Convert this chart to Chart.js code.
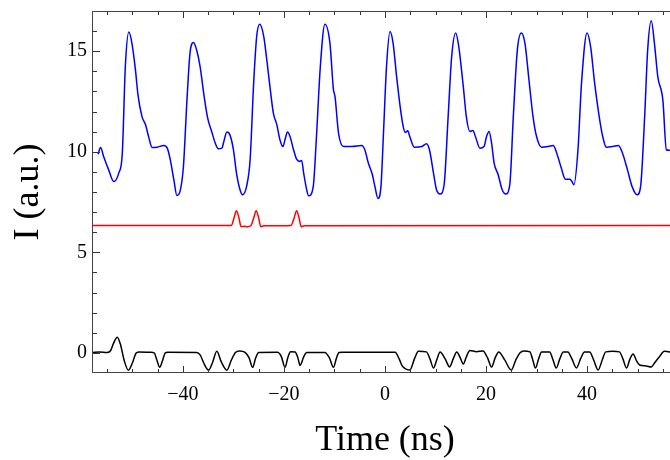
<!DOCTYPE html>
<html>
<head>
<meta charset="utf-8">
<script src="https://cdn.jsdelivr.net/npm/chart.js@4.4.1/dist/chart.umd.min.js"></script>
<style>
  html, body { margin: 0; padding: 0; background: #fff; overflow: hidden; }
  #wrap { width: 690px; height: 460px; }
</style>
</head>
<body>
<div id="wrap"><canvas id="pulses" width="690" height="460"></canvas></div>
<script>
"use strict"

// axis ticks
const timeTicks = [-40, -20, 0, 20, 40];
const levelTicks = [0, 5, 10, 15];

// blue trace: output intensity (offset by +10)
const blueTime = [-56.8, -56.3, -55.7, -54.7, -53.7, -52.7, -52.0, -51.4, -50.7, -50.1, -49.4, -48.9, -48.1, -47.4, -46.8, -46.1,
  -45.1, -43.8, -43.1, -42.5, -41.8, -41.2, -40.5, -39.9, -39.2, -38.6, -37.9, -37.3, -36.6, -35.8, -35.1, -34.3, -33.6, -33.0,
  -32.3, -31.9, -31.3, -30.7, -30.0, -29.4, -28.7, -28.2, -27.4, -26.7, -26.0, -25.4, -24.8, -24.0, -23.4, -22.7, -22.1, -21.4,
  -20.8, -20.2, -19.8, -19.3, -18.8, -18.1, -17.5, -16.9, -16.5, -16.1, -15.5, -15.1, -14.2, -13.6, -12.8, -11.9, -10.9, -10.2,
  -9.9, -9.2, -8.2, -6.6, -4.6, -4.0, -3.3, -2.5, -2.0, -1.4, -0.8, -0.3, 0.3, 1.0, 1.6, 2.3, 3.0, 3.6, 4.0, 4.5, 4.9, 5.8,
  7.3, 8.2, 8.8, 9.6, 10.2, 10.9, 11.7, 12.5, 13.2, 14.0, 14.6, 15.5, 16.1, 16.8, 17.4, 17.9, 18.8, 19.6, 20.1, 20.6, 21.1,
  21.6, 22.4, 23.2, 23.9, 24.7, 25.4, 26.2, 27.0, 27.7, 28.5, 29.3, 30.0, 31.0, 32.3, 33.3, 34.0, 34.9, 35.7, 36.6, 37.0,
  37.4, 38.2, 38.9, 40.0, 40.7, 41.5, 42.5, 43.1, 43.8, 45.1, 46.2, 46.9, 48.0, 48.9, 49.9, 50.6, 51.4, 52.0, 52.7, 53.4,
  54.0, 55.0, 55.7, 56.3, 57.2, 58.0];
const blueLevel = [9.88, 10.21, 9.77, 9.10, 8.52, 8.94, 9.93, 14.24, 15.95, 15.40, 14.07, 12.83, 11.75, 11.34, 10.76, 10.21,
  10.23, 10.31, 10.18, 9.60, 8.61, 7.83, 8.11, 9.27, 12.58, 14.90, 15.43, 15.07, 14.24, 12.75, 11.67, 11.00, 10.43, 10.15,
  10.18, 10.51, 10.98, 10.84, 10.10, 8.94, 8.11, 7.86, 8.28, 9.60, 13.41, 15.73, 16.34, 15.73, 14.57, 13.08, 11.92, 11.34,
  10.60, 10.26, 10.60, 10.98, 10.76, 10.10, 9.63, 9.52, 9.57, 8.94, 8.11, 7.81, 8.28, 10.60, 14.24, 16.34, 15.40, 13.08,
  12.75, 10.93, 10.26, 10.26, 10.31, 10.10, 9.44, 8.86, 8.28, 7.68, 8.28, 10.93, 14.24, 15.98, 15.40, 13.74, 12.25, 11.26, 10.96, 11.04, 10.76, 10.23,
  10.26, 10.40, 10.10, 8.94, 8.11, 7.90, 8.36, 11.75, 14.74, 15.91, 15.23, 13.24, 11.75, 11.01, 11.06, 10.76, 10.18, 10.26, 10.76, 11.01, 10.43,
  9.44, 8.86, 8.11, 7.90, 8.36, 11.75, 15.07, 15.91, 15.40, 13.57, 11.75, 10.76, 10.23, 10.26, 10.31, 9.93, 9.19, 8.64, 8.64, 8.52,
  8.36, 10.10, 13.41, 15.91, 15.23, 13.41, 11.59, 10.76, 10.23, 10.26, 10.31, 10.01, 9.10, 8.28, 7.86, 8.28, 11.75, 15.07, 16.51, 15.23,
  13.74, 12.58, 10.10, 10.07, 10.10, 10.15];

// red trace: injected signal (offset by +6.34)
const redTime = [-58, -30.4, -29.9, -29.4, -28.9, -28.5, -27.9, -27.2, -26.5, -26.0, -25.5, -25.0, -24.6, -24.0,
  -18.6, -18.0, -17.5, -17.0, -16.6, -16.0, 58];
const redLevel = [6.34, 6.34, 6.7, 7.07, 6.7, 6.27, 6.3, 6.27, 6.34, 6.7, 7.07, 6.7, 6.27, 6.32,
  6.34, 6.7, 7.07, 6.7, 6.27, 6.32, 6.34];

// black trace: bit pattern
const blackTime = [-58, -56.5, -55.0, -54.3, -53.7, -53.0, -52.4, -51.6, -50.8, -50.0, -49.3, -48.7, -46.4, -45.7, -45.1,
  -44.6, -44.0, -43.5, -43.0, -37.3, -36.6, -35.7, -34.9, -34.1, -33.3, -32.4, -31.3, -30.4, -29.6, -28.8, -27.7, -26.9,
  -26.2, -25.6, -25.0, -21.3, -20.5, -19.8, -19.2, -18.7, -17.8, -17.3, -16.8, -16.1, -15.5, -11.9, -11.0, -10.2, -9.6,
  -9.1, -8.5, 2.0, 2.8, 3.4, 4.3, 4.9, 5.9, 6.6, 8.2, 8.9, 9.6, 10.3, 10.9, 11.9, 12.8, 13.5, 14.2, 14.9, 15.5, 16.1, 16.8,
  18.1, 19.4, 20.3, 21.1, 21.8, 22.5, 23.7, 25.0, 25.9, 26.7, 27.5, 28.7, 29.2, 29.8, 30.4, 31.0, 32.6, 33.2, 33.9, 34.6,
  35.3, 36.2, 37.0, 37.9, 38.7, 39.5, 40.5, 41.3, 42.2, 43.0, 43.7, 45.1, 46.4, 47.1, 47.8, 48.5, 49.1, 49.8, 50.4, 51.7,
  52.7, 53.5, 54.3, 55.3, 56.3, 58.0];
const blackLevel = [0.02, 0.05, 0.02, 0.12, 0.5, 0.78, 0.45, -0.4, -0.86, -0.5, -0.02, 0.05, 0.03, 0.0, -0.4,
  -0.72, -0.35, 0.0, 0.03, 0.02, -0.1, -0.6, -0.86, -0.45, 0.08, -0.45, -0.86, -0.35, 0.02, 0.1, 0.03, -0.25,
  -0.72, -0.25, 0.02, 0.03, -0.2, -0.72, -0.2, 0.06, 0.05, -0.2, -0.62, -0.2, 0.02, 0.02, -0.25, -0.72, -0.25,
  0.02, 0.03, 0.03, -0.3, -0.65, -0.82, -0.85, -0.25, 0.08, 0.05, -0.3, -0.75, -0.3, 0.05, -0.3, -0.7, -0.3, 0.05, -0.25, -0.55, -0.2, 0.12,
  0.06, 0.1, -0.25, -0.7, -0.25, 0.05, -0.35, -0.85, -0.35, 0.0, 0.1, 0.05, -0.3, -0.75, -0.3, 0.05, 0.05, -0.3, -0.75, -0.3,
  0.05, 0.05, -0.3, -0.75, -0.3, 0.05, 0.05, -0.35, -0.85, -0.35, 0.05, 0.08, 0.05, -0.3, -0.75, -0.3, -0.05, -0.4, -0.6, -0.65,
  -0.7, -0.45, -0.2, 0.08, 0.05, 0.05];

const toPoints = (ts, vs) => ts.map((t, i) => ({ x: t, y: vs[i] }));

const serif = "'Liberation Serif', 'Times New Roman', serif";

// boxed frame with inward major/minor ticks on all sides
const frameTicks = {
  id: 'frameTicks',
  afterDatasetsDraw(chart) {
    const { ctx, chartArea: a, scales: { x, y } } = chart;
    ctx.save();
    ctx.lineWidth = 1;
    ctx.strokeStyle = '#333';
    ctx.beginPath();
    for (let v = -55; v <= 55; v += 5) {
      const px = Math.round(x.getPixelForValue(v)) + 0.5;
      const len = v % 20 === 0 ? 7 : 4;
      ctx.moveTo(px, a.bottom); ctx.lineTo(px, a.bottom - len);
      ctx.moveTo(px, a.top); ctx.lineTo(px, a.top + len);
    }
    for (let v = 0; v <= 16; v++) {
      const py = Math.round(y.getPixelForValue(v)) + 0.5;
      const len = v % 5 === 0 ? 8 : 5;
      ctx.moveTo(a.left, py); ctx.lineTo(a.left + len, py);
      ctx.moveTo(a.right, py); ctx.lineTo(a.right - len, py);
    }
    ctx.stroke();
    ctx.strokeStyle = '#444';
    ctx.strokeRect(Math.round(a.left) + 0.5, Math.round(a.top) + 0.5, Math.round(a.width) - 1, Math.round(a.height) - 1);
    ctx.restore();
  }
};

const minus = v => String(v).replace('-', '\u2212');

new Chart(document.getElementById("pulses"), {
  type: 'line',
  data: {
    datasets: [
      { data: toPoints(blackTime, blackLevel), borderColor: '#000000' },
      { data: toPoints(redTime, redLevel), borderColor: '#ff0000' },
      { data: toPoints(blueTime, blueLevel), borderColor: '#0000ff' }
    ]
  },
  options: {
    responsive: false,
    devicePixelRatio: 1,
    animation: false,
    layout: { padding: { top: 11, right: 12, left: 0, bottom: 0 } },
    elements: {
      line: { borderWidth: 1.5, cubicInterpolationMode: 'monotone', fill: false },
      point: { radius: 0 }
    },
    plugins: { legend: { display: false }, tooltip: { enabled: false } },
    scales: {
      x: {
        type: 'linear',
        min: -58,
        max: 58,
        grid: { display: false, drawTicks: false },
        border: { display: false },
        afterBuildTicks: s => { s.ticks = timeTicks.map(v => ({ value: v })); },
        afterFit: s => { s.height = 87; s.paddingLeft = 0; s.paddingRight = 0; },
        ticks: { color: '#000', padding: 10, maxRotation: 0, font: { family: serif, size: 20 }, callback: minus },
        title: { display: true, text: 'Time (ns)', color: '#000', padding: { top: 0, bottom: 0 },
                 font: { family: serif, size: 36, lineHeight: 1.1 } }
      },
      y: {
        type: 'linear',
        min: -1,
        max: 17,
        grid: { display: false, drawTicks: false },
        border: { display: false },
        afterBuildTicks: s => { s.ticks = levelTicks.map(v => ({ value: v })); },
        afterFit: s => { s.width = 92; s.paddingTop = 0; s.paddingBottom = 0; },
        ticks: { color: '#000', padding: 5, font: { family: serif, size: 20 }, callback: minus },
        title: { display: true, text: 'I (a.u.)', color: '#000', padding: { top: 9, bottom: 0 },
                 font: { family: serif, size: 36, lineHeight: 1.1 } }
      }
    }
  },
  plugins: [frameTicks]
});
</script>
</body>
</html>
